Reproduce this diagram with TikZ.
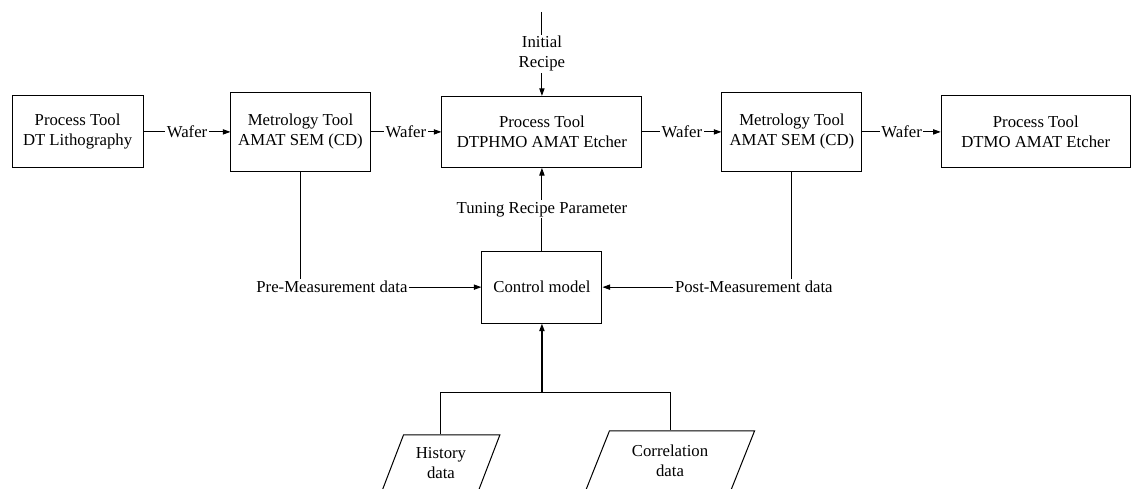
\documentclass[tikz,border=0pt]{standalone}
\usepackage{fontspec}
\setmainfont{Liberation Serif}
\usetikzlibrary{shapes.geometric, arrows.meta, positioning, calc}
\tikzset{
	tool/.style  ={rectangle, draw=black, line width=0.6pt, minimum width=2.9cm, minimum height=1.5cm, align=center, inner sep=2pt},
	lbl/.style   ={fill=white, inner sep=1pt, align=center},
	datain/.style={trapezium, trapezium left angle=66, trapezium right angle=114, trapezium stretches=true, draw=black, line width=0.6pt, align=center, inner sep=1pt},
	sig/.style   ={-{Triangle[length=1.6mm, width=1.1mm]}, line width=0.6pt},
	wire/.style  ={line width=0.6pt},
}
\begin{document}
\begin{tikzpicture}[font=\fontsize{10}{12}\selectfont]
	\useasboundingbox (0,0) rectangle (23.75,10.25);
	% main wafer line
	\node[tool, minimum width=2.75cm, minimum height=1.51cm] (litho) at (1.63,7.48) {Process Tool\\ DT Lithography};
	\node[tool, minimum width=2.92cm, minimum height=1.66cm] (sem1) at (6.31,7.48) {Metrology Tool\\ AMAT SEM (CD)};
	\node[tool, minimum width=4.2cm, minimum height=1.49cm] (etch) at (11.38,7.48) {Process Tool\\ DTPHMO AMAT Etcher};
	\node[tool, minimum width=2.94cm, minimum height=1.66cm] (sem2) at (16.63,7.48) {Metrology Tool\\ AMAT SEM (CD)};
	\node[tool, minimum width=3.97cm, minimum height=1.51cm] (etch2) at (21.75,7.48) {Process Tool\\ DTMO AMAT Etcher};
	\node[tool, minimum width=2.52cm, minimum height=1.51cm] (ctrl) at (11.38,4.22) {Control model};
	% measurement data and model inputs
	\node[lbl] (pre) at (6.97,4.22) {Pre-Measurement data};
	\node[lbl] (post) at (15.83,4.22) {Post-Measurement data};
	\node[datain, minimum width=2.48cm, minimum height=1.18cm] (hist) at (9.26,0.53) {History\\ data};
	\node[datain, minimum width=3.57cm, minimum height=1.26cm] (corr) at (14.07,0.57) {Correlation\\ data};
	\coordinate (rtop) at (11.38,10.0);
	\coordinate (jn) at (11.38,2.0);
	\foreach \a/\b in {litho/sem1, sem1/etch, etch/sem2, sem2/etch2}
		\draw[sig] (\a) -- node[lbl] {Wafer} (\b);
	\draw[sig] (rtop) -- node[lbl] {Initial\\ Recipe} (etch);
	\draw[sig] (ctrl) -- node[lbl] {Tuning Recipe Parameter} (etch);
	\draw[wire] (sem1.south) -- (sem1.south |- pre.north);
	\draw[wire] (sem2.south) -- (sem2.south |- post.north);
	\draw[sig] (pre) -- (ctrl);
	\draw[sig] (post) -- (ctrl);
	\draw[wire] (hist.north) |- (jn) -| (corr.north);
	\draw[sig, line width=0.9pt] (jn) -- (ctrl);
\end{tikzpicture}
\end{document}
